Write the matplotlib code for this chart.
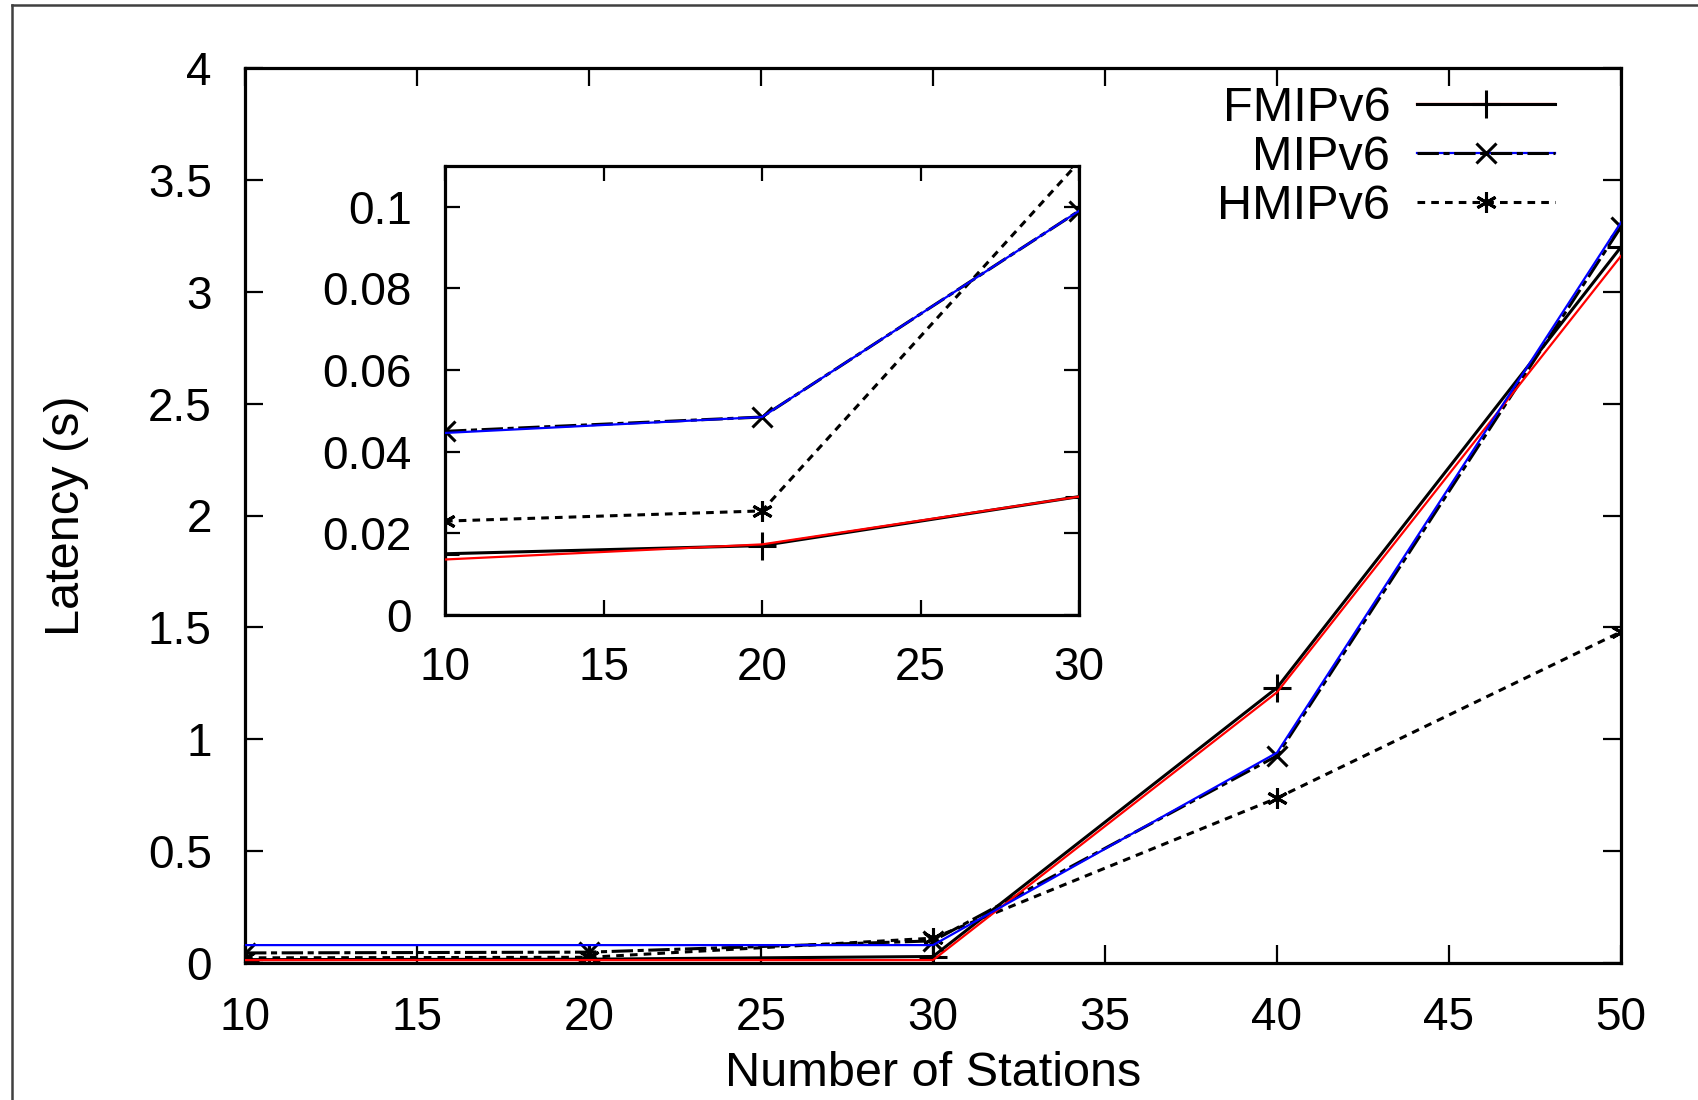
import matplotlib
matplotlib.use('Agg')
import matplotlib.pyplot as plt
from matplotlib.lines import Line2D
from matplotlib.legend_handler import HandlerTuple

plt.rcParams['font.family'] = ['Liberation Sans', 'DejaVu Sans']

# data
stations = [10, 20, 30, 40, 50]
fmip = [0.015, 0.017, 0.029, 1.23, 3.20]
mip = [0.045, 0.0485, 0.099, 0.926, 3.29]
hmip = [0.023, 0.0255, 0.111, 0.737, 1.48]
# colour overlay lines (main plot)
fmip_red = [0.013, 0.013, 0.013, 1.21, 3.16]
mip_blue = [0.08, 0.08, 0.08, 0.94, 3.31]
# inset (first three stations)
inset_st = [10, 20, 30]
fmip_red_in = [0.0136, 0.0173, 0.029]
mip_blue_in = [0.0446, 0.0485, 0.099]

xticks = [10, 15, 20, 25, 30, 35, 40, 45, 50]
yticks = [0, 0.5, 1, 1.5, 2, 2.5, 3, 3.5, 4]
ylabels = ['0', '0.5', '1', '1.5', '2', '2.5', '3', '3.5', '4']
in_xticks = [10, 15, 20, 25, 30]
in_yticks = [0, 0.02, 0.04, 0.06, 0.08, 0.1]
in_ylabels = ['0', '0.02', '0.04', '0.06', '0.08', '0.1']
names = ['FMIPv6', 'MIPv6', 'HMIPv6']

W, H = 1698, 1100
fig = plt.figure(figsize=(W / 100, H / 100), dpi=100)

def frac(l, t, r, b):
    return [l / W, 1 - b / H, (r - l) / W, (b - t) / H]

FS = 33

def style_axes(ax, ticklen, pad):
    for s in ax.spines.values():
        s.set_linewidth(2.3)
    ax.tick_params(direction='in', length=ticklen, width=1.6, top=True, right=True,
                   labelsize=FS, pad=pad)

def draw_series(ax, x, ys, ms):
    l1, = ax.plot(x, ys[0], color='black', lw=2.2, marker='+', ms=ms, mew=2.2, zorder=3)
    l2, = ax.plot(x, ys[1], color='black', lw=2.2, ls=(0, (7, 1.5, 2, 1.5)), marker='x',
                  ms=ms * 0.7, mew=2.2, zorder=3)
    l3, = ax.plot(x, ys[2], color='black', lw=2.2, ls=(0, (2.5, 2)), marker=(6, 2, 0),
                  ms=ms * 0.75, mew=2.2, zorder=3)
    return l1, l2, l3

# main axes
ax = fig.add_axes(frac(245, 68, 1621, 963))
l1, l2, l3 = draw_series(ax, stations, [fmip, mip, hmip], 20)
r1, = ax.plot(stations, fmip_red, color='#ff0000', lw=1.6, zorder=4)
b1, = ax.plot(stations, mip_blue, color='#0000ff', lw=1.6, zorder=4)
ax.set_xlim(10, 50)
ax.set_ylim(0, 4)
ax.set_xticks(xticks)
ax.set_yticks(yticks)
ax.set_yticklabels(ylabels)
style_axes(ax, 13, 24)
ax.set_xlabel('Number of Stations', fontsize=35, labelpad=8)
ax.set_ylabel('Latency (s)', fontsize=35, labelpad=42)

leg = ax.legend([(r1, l1), (b1, l2), l3], names, loc='upper right',
                bbox_to_anchor=(0.970, 1.007), frameon=False, fontsize=35,
                markerfirst=False, handlelength=2.85, handletextpad=0.55,
                labelspacing=0.08, borderpad=0,
                handler_map={tuple: HandlerTuple(ndivide=1)})
for col in leg._legend_handle_box.get_children():
    col.align = 'right'

# inset
axi = fig.add_axes(frac(445, 166, 1079, 615))
draw_series(axi, inset_st, [fmip[:3], mip[:3], hmip[:3]], 20)
axi.plot(inset_st, fmip_red_in, color='#ff0000', lw=1.6, zorder=4)
axi.plot(inset_st, mip_blue_in, color='#0000ff', lw=1.6, zorder=4)
axi.set_xlim(10, 30)
axi.set_ylim(0, 0.11)
axi.set_xticks(in_xticks)
axi.set_yticks(in_yticks)
axi.set_yticklabels(in_ylabels)
style_axes(axi, 11, 24)
axi.tick_params(axis='x', pad=22)

# page border (top and left edges)
fig.add_artist(Line2D([12 / W, 12 / W], [0, 1 - 5 / H], color='#404040', lw=1.8))
fig.add_artist(Line2D([12 / W, 1], [1 - 5 / H, 1 - 5 / H], color='#404040', lw=1.8))

fig.savefig('out.png', dpi=100, facecolor='white')
